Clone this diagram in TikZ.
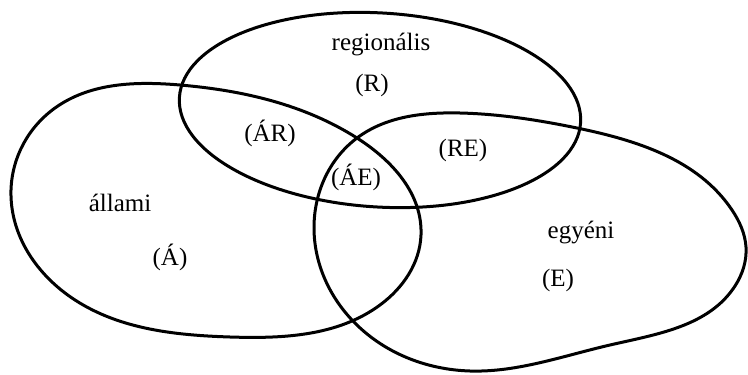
\documentclass[tikz,border=0pt]{standalone}
\usepackage{fontspec}
\setmainfont{Liberation Serif}
\usetikzlibrary{hobby}
\begin{document}
\begin{tikzpicture}[x=1pt,y=-1pt,
  blob/.style={line width=3pt,line join=round},
  lbl/.style={font=\fontsize{25}{30}\selectfont,inner sep=0pt}]
\useasboundingbox (0,0) rectangle (748,375);
% regionalis (R)
\draw[blob] (380,110) ellipse [x radius=201pt, y radius=97pt, rotate=-3.6];
% allami (A)
\draw[blob, use Hobby shortcut, closed=true]
 (11,190) .. (55,108) .. (180,85) .. (357,138) .. (421,235)
 .. (380,305) .. (230,337) .. (75,300);
% egyeni (E)
\draw[blob, use Hobby shortcut, closed=true]
 (357,138) .. (314,228) .. (352,320) .. (470,371) .. (610,345)
 .. (735,286) .. (746,247) .. (732,210) .. (577,128) .. (460,113);
\node[lbl] (reg) at (381,45) {regionális};
\node[lbl] (R) at (372,85) {(R)};
\node[lbl] (AR) at (270,133) {(ÁR)};
\node[lbl] (AE) at (356,177) {(ÁE)};
\node[lbl] (RE) at (463,150) {(RE)};
\node[lbl] (all) at (120,203) {állami};
\node[lbl] (A) at (170,257) {(Á)};
\node[lbl] (egy) at (581,233) {egyéni};
\node[lbl] (E) at (558,280) {(E)};
\end{tikzpicture}
\end{document}
